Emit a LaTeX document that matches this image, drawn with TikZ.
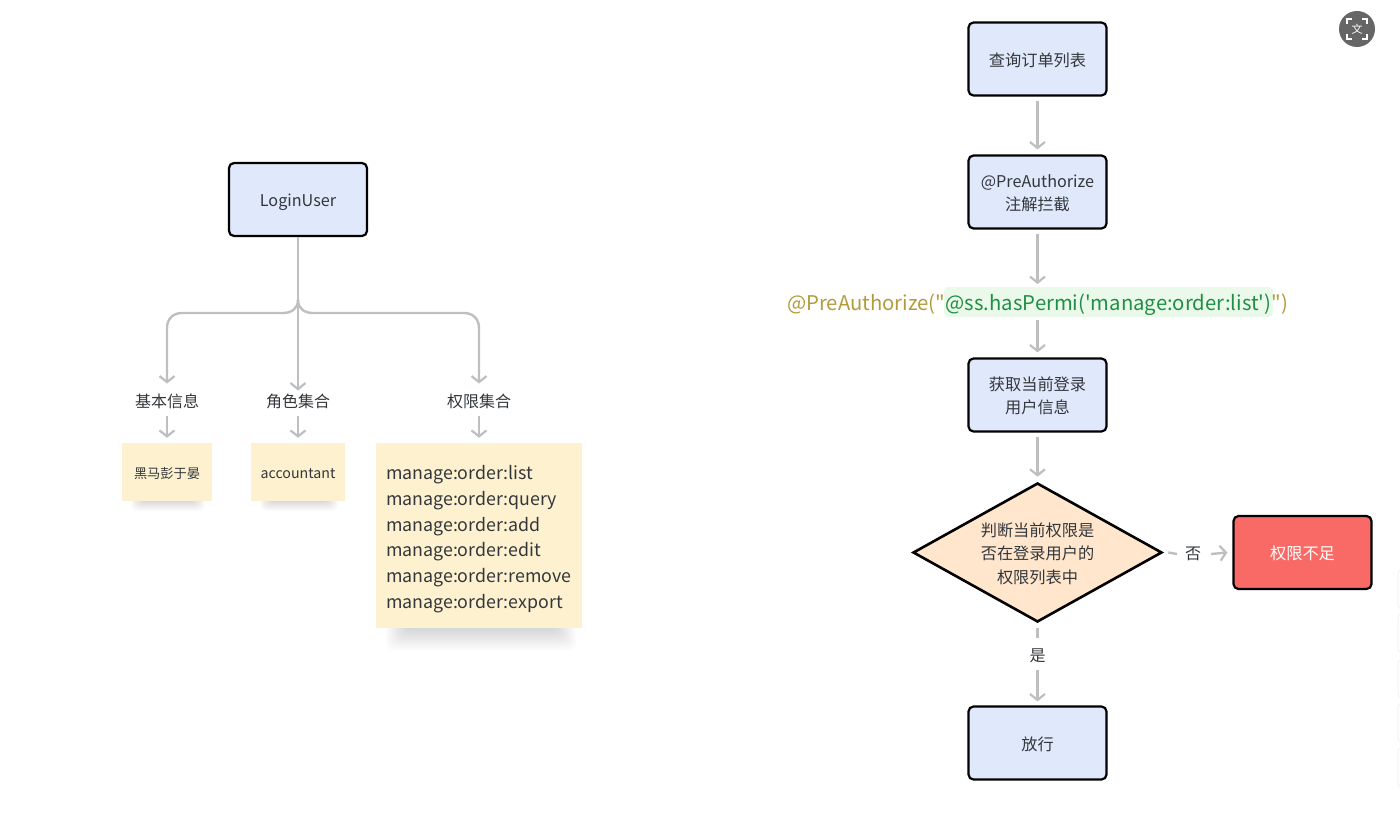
\documentclass[tikz,border=0pt]{standalone}
\usepackage{fontspec}
\setmainfont{Noto Sans CJK SC}
\newfontfamily\codefont{Noto Sans CJK SC}
\usetikzlibrary{arrows.meta,shapes.geometric}
\definecolor{boxfill}{HTML}{E0E9FC}
\definecolor{notefill}{HTML}{FDF1CF}
\definecolor{diafill}{HTML}{FFE6CC}
\definecolor{redfill}{HTML}{F96A66}
\definecolor{conn}{HTML}{BDBFC1}
\definecolor{inkc}{HTML}{33373B}
\definecolor{gold}{HTML}{B39B3C}
\definecolor{codegreen}{HTML}{1F8F45}
\definecolor{codebg}{HTML}{EAF9EA}
\definecolor{shadowc}{HTML}{6E7680}
\newcommand{\dn}[2]{\vbox{\vskip#1\hbox{\begin{tabular}{@{}c@{}}#2\end{tabular}}}}
\newcommand{\dnl}[3]{\vbox{\vskip#1\hbox to #2{\begin{tabular}{@{}l@{}}#3\end{tabular}\hss}}}
\tikzset{
  x=1pt,y=-1pt,
  flowbox/.style={draw=black,line width=2.2pt,rounded corners=5pt,fill=boxfill,minimum width=138pt,minimum height=73pt,inner sep=0pt,text=inkc,font=\fontsize{16.2}{23.5}\selectfont},
  redbox/.style={flowbox,fill=redfill,text=white},
  decision/.style={diamond,draw=black,line width=2.6pt,fill=diafill,minimum width=249pt,minimum height=139pt,inner sep=0pt,aspect=1.79,text=inkc,font=\fontsize{16.2}{23.5}\selectfont},
  note/.style={fill=notefill,inner sep=0pt,text=inkc},
  lab/.style={text=inkc,inner sep=0pt,font=\fontsize{16}{20}\selectfont},
  link/.style={draw=conn,line width=2.4pt,-{Straight Barb[length=6pt,width=15pt,line width=2.2pt]}},
  plainlink/.style={draw=conn,line width=2.4pt},
  codetext/.style={anchor=base west,inner sep=0pt,font=\codefont\fontsize{20.27}{24}\selectfont},
}
% x1, x2, top, bottom, blur
\newcommand{\softshadow}[5]{%
  \foreach \g in {0,...,15}{%
    \fill[shadowc,opacity=0.02,rounded corners=6pt]
      ({#1+\g*#5/15-#5/2},#3) rectangle ({#2-\g*#5/15+#5/2},{#4+#5/2-\g*#5/15});}}
\begin{document}
\begin{tikzpicture}
\useasboundingbox (0,0) rectangle (1400,821);
\fill[white] (0,0) rectangle (1400,821);

% faint panels at the right edge
\foreach \a/\b in {570/608,614/652,660/697,704/741,748/787}
  \draw[black!6,line width=0.8pt,rounded corners=3pt] (1398,\a) rectangle (1412,\b);

% left tree
\node[flowbox] (login) at (298,199.5) {\dn{5pt}{LoginUser}};
\node[lab] (l1) at (167,401.5) {基本信息};
\node[lab] (l2) at (298,401.5) {角色集合};
\node[lab] (l3) at (479,401.5) {权限集合};

\softshadow{137}{199}{495}{505}{12}
\softshadow{266}{332}{495}{505}{12}
\softshadow{398}{564}{615}{638}{24}
\node[note,minimum width=90pt,minimum height=58pt,font=\fontsize{13.2}{16}\selectfont] (n1) at (167,472) {\dn{6pt}{黑马彭于晏}};
\node[note,minimum width=94pt,minimum height=58pt,font=\fontsize{14.2}{16}\selectfont] (n2) at (298,472) {\dn{6pt}{accountant}};
\node[note,minimum width=206pt,minimum height=185pt,font=\fontsize{17.8}{25.7}\selectfont] (n3) at (479,535.5) {\dnl{7pt}{186pt}{manage:order:list\\manage:order:query\\manage:order:add\\manage:order:edit\\manage:order:remove\\manage:order:export}};

\coordinate (fork) at (298,300);
\draw[link] (login.south) -- ([yshift=11pt]l2.center);
\draw[link] (fork) .. controls (298,309) and (291,313) .. (283,313) -- (182,313) .. controls (173,313) and (167,319) .. (167,328) -- ([yshift=18pt]l1.center);
\draw[link] (fork) .. controls (298,309) and (305,313) .. (313,313) -- (464,313) .. controls (473,313) and (479,319) .. (479,328) -- ([yshift=18pt]l3.center);
\draw[link] ([yshift=-14pt]l1.center) -- ([yshift=5pt]n1.north);
\draw[link] ([yshift=-14pt]l2.center) -- ([yshift=5pt]n2.north);
\draw[link] ([yshift=-14pt]l3.center) -- ([yshift=5pt]n3.north);

% right flow
\node[flowbox] (f1) at (1037.5,59) {\dn{5pt}{查询订单列表}};
\node[flowbox] (f2) at (1037.5,192) {\dn{5pt}{@PreAuthorize\\注解拦截}};
\node[flowbox] (f3) at (1037.5,395) {\dn{5pt}{获取当前登录\\用户信息}};
\node[decision] (dec) at (1037.5,552.5) {\dn{5pt}{判断当前权限是\\否在登录用户的\\权限列表中}};
\node[redbox] (deny) at (1302.5,552.5) {\dn{5pt}{权限不足}};
\node[flowbox] (pass) at (1037.5,743) {\dn{5pt}{放行}};

% code line
\fill[codebg,rounded corners=4pt] (944,287) rectangle (1273,317);
\node[codetext,text=gold] (c1) at (787,310.5) {@PreAuthorize("};
\node[codetext,text=codegreen] (c2) at (c1.base east) {@ss.hasPermi('manage:order:list')};
\node[codetext,text=gold] (c3) at (c2.base east) {")};

\node[lab] (no) at (1193,554) {否};
\node[lab] (yes) at (1037.5,656) {是};

\draw[link] ([yshift=-4pt]f1.south) -- ([yshift=5pt]f2.north);
\coordinate (codetop) at (1037.5,284);
\coordinate (codebot) at (1037.5,320);
\draw[link] ([yshift=-4pt]f2.south) -- (codetop);
\draw[link] (codebot) -- ([yshift=5pt]f3.north);
\draw[link] ([yshift=-4pt]f3.south) -- ([yshift=5pt]dec.north);
\draw[plainlink] ([xshift=5pt]dec.east) -- ([xshift=-16pt]no.center);
\draw[link] ([xshift=18pt]no.center) -- ([xshift=-5pt]deny.west);
\draw[plainlink] ([yshift=-5pt]dec.south) -- ([yshift=18pt]yes.center);
\draw[link] ([yshift=-14pt]yes.center) -- ([yshift=4pt]pass.north);

% corner icon
\node[circle,fill=black!60,minimum size=36pt,inner sep=0pt,text=white,font=\fontsize{11}{12}\selectfont] (icon) at (1357,29) {文};
\begin{scope}[white,line width=1.2pt]
\draw ([shift={(-10,-5)}]icon.center) -- ++(0,-5) -- ++(5,0);
\draw ([shift={(10,-5)}]icon.center) -- ++(0,-5) -- ++(-5,0);
\draw ([shift={(-10,5)}]icon.center) -- ++(0,5) -- ++(5,0);
\draw ([shift={(10,5)}]icon.center) -- ++(0,5) -- ++(-5,0);
\end{scope}
\end{tikzpicture}
\end{document}
